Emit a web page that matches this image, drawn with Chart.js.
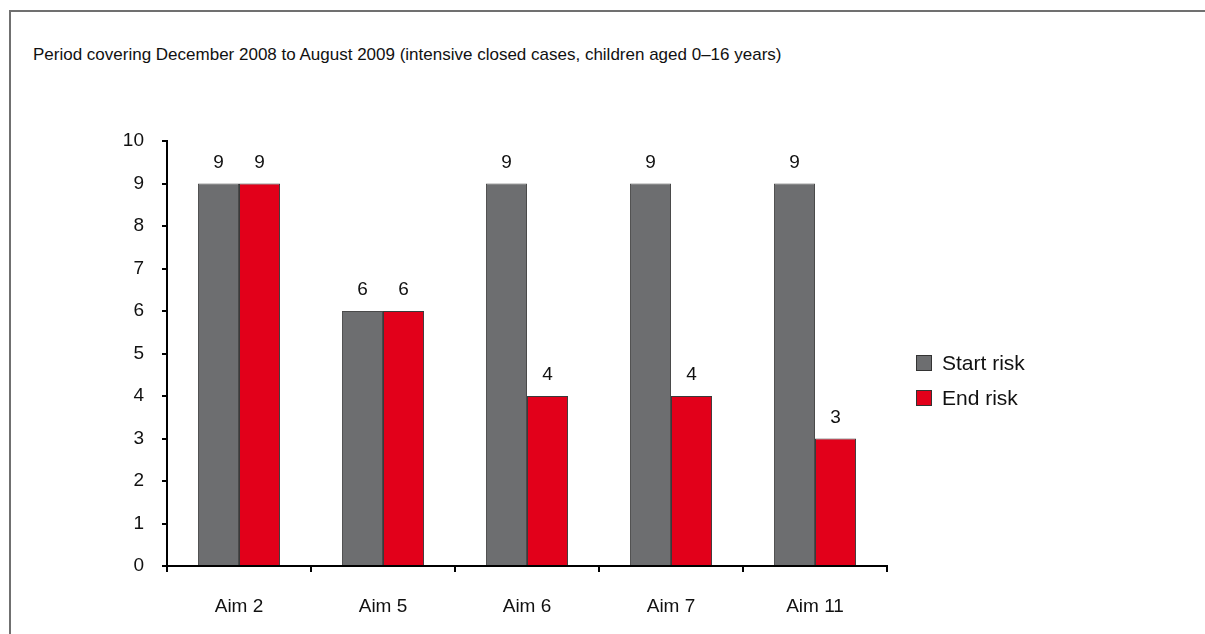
<!DOCTYPE html>
<html>
<head>
<meta charset="utf-8">
<script src="https://cdn.jsdelivr.net/npm/chart.js@4.4.1/dist/chart.umd.min.js"></script>
<style>
    html, body { margin: 0; padding: 0; background: #fff; }
    body { width: 1205px; height: 634px; position: relative; overflow: hidden; font-family: "Liberation Sans", Arial, sans-serif; }
    #frame { position: absolute; left: 9px; top: 10px; width: 1300px; height: 700px; border: 2px solid #707070; box-sizing: border-box; }
    #title { position: absolute; left: 33px; top: 45px; font-size: 17px; color: #111; white-space: nowrap; }
    #chart { position: absolute; left: 0; top: 0; }
    #legend { position: absolute; left: 916px; top: 345px; font-size: 21px; color: #111; }
    #legend .item { display: flex; align-items: center; height: 35px; }
    #legend .box { width: 14px; height: 14px; border: 1px solid #333; margin-right: 10px; }
</style>
</head>
<body>
<div id="frame"></div>
<div id="title">Period covering December 2008 to August 2009 (intensive closed cases, children aged 0–16 years)</div>
<canvas id="chart" width="1205" height="634"></canvas>
<div id="legend"></div>
<script>
const categories = ["Aim 2", "Aim 5", "Aim 6", "Aim 7", "Aim 11"];
const startRisk = [9, 6, 9, 9, 9];
const endRisk = [9, 6, 4, 4, 3];
const yTicks = [0, 1, 2, 3, 4, 5, 6, 7, 8, 9, 10];

const FONT = "'Liberation Sans', Arial, sans-serif";

// draw the value above each bar
const valueLabels = {
    id: "valueLabels",
    afterDatasetsDraw(chart) {
        const ctx = chart.ctx;
        ctx.save();
        ctx.font = "19px " + FONT;
        ctx.fillStyle = "#111";
        ctx.textAlign = "center";
        ctx.textBaseline = "alphabetic";
        chart.data.datasets.forEach((ds, i) => {
            const meta = chart.getDatasetMeta(i);
            meta.data.forEach((bar, j) => {
                ctx.fillText(String(ds.data[j]), bar.x, bar.y - 16);
            });
        });
        ctx.restore();
    },
};

const chart = new Chart(document.getElementById("chart"), {
    type: "bar",
    data: {
        labels: categories,
        datasets: [
            {
                label: "Start risk",
                data: startRisk,
                backgroundColor: "#6d6e70",
                borderColor: "#4a4a4a",
                borderWidth: 1,
            },
            {
                label: "End risk",
                data: endRisk,
                backgroundColor: "#e2001a",
                borderColor: "#3a3a3a",
                borderWidth: 1,
            },
        ],
    },
    options: {
        responsive: false,
        animation: false,
        devicePixelRatio: 1,
        layout: {
            padding: { left: 107, right: 318, top: 141, bottom: 18 },
        },
        datasets: {
            bar: { categoryPercentage: 0.57, barPercentage: 1.0 },
        },
        plugins: {
            legend: { display: false },
            tooltip: { enabled: false },
            title: { display: false },
        },
        scales: {
            x: {
                afterFit: (s) => { s.height = 50; },
                grid: {
                    offset: true,
                    drawOnChartArea: false,
                    drawTicks: true,
                    tickLength: 6,
                    color: "#000",
                    lineWidth: 2,
                },
                border: { display: true, color: "#000", width: 2 },
                ticks: {
                    color: "#111",
                    padding: 23,
                    font: { size: 19, family: FONT },
                },
            },
            y: {
                min: 0,
                max: 10,
                afterFit: (s) => { s.width = 60; },
                afterBuildTicks: (s) => { s.ticks = yTicks.map((v) => ({ value: v })); },
                grid: {
                    drawOnChartArea: false,
                    drawTicks: true,
                    tickLength: 5,
                    color: "#000",
                    lineWidth: 2,
                },
                border: { display: true, color: "#000", width: 2 },
                ticks: {
                    color: "#111",
                    padding: 18,
                    font: { size: 19, family: FONT },
                },
            },
        },
    },
    plugins: [valueLabels],
});

// legend built from the datasets
const legend = document.getElementById("legend");
chart.data.datasets.forEach((ds) => {
    const item = document.createElement("div");
    item.className = "item";
    const box = document.createElement("span");
    box.className = "box";
    box.style.background = ds.backgroundColor;
    const txt = document.createElement("span");
    txt.textContent = ds.label;
    item.appendChild(box);
    item.appendChild(txt);
    legend.appendChild(item);
});
</script>
</body>
</html>
